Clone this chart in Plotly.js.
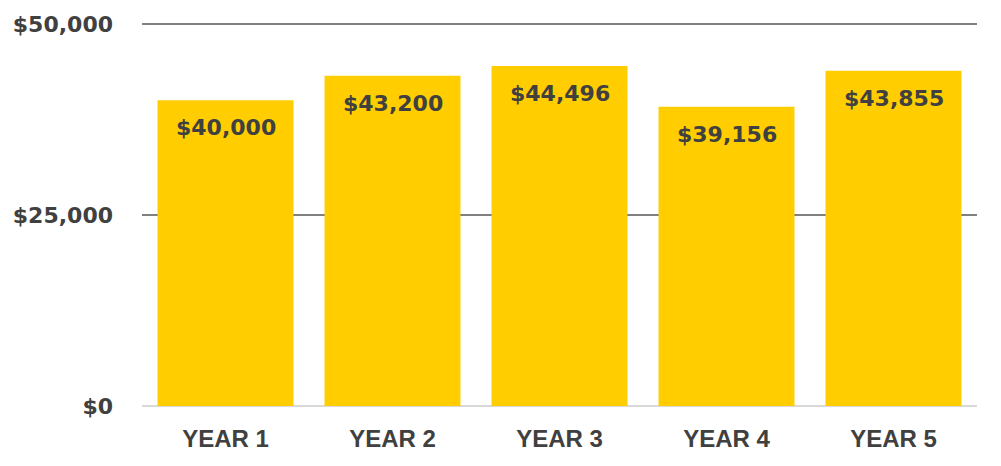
<!DOCTYPE html>
<html><head><meta charset="utf-8">
<script src="https://cdn.plot.ly/plotly-3.0.1.min.js"></script>
<style>html,body{margin:0;padding:0;background:#fff}</style>
</head><body><div id="chart" style="width:1001px;height:466px"></div>
<script>
const categories = ["YEAR 1", "YEAR 2", "YEAR 3", "YEAR 4", "YEAR 5"];
const values = [40000, 43200, 44496, 39156, 43855];
const yTickVals = [0, 25000, 50000];
const yTickText = ["$0", "$25,000", "$50,000"];

const numFont = "DejaVu Sans, sans-serif";
const txtColor = "#404040";

const trace = {
  type: "bar",
  x: categories,
  y: values,
  marker: {color: "#FFCD00"},
  hoverinfo: "skip"
};

const annotations = categories.map((c, i) => ({
  x: c, y: values[i], xref: "x", yref: "y",
  text: "$" + values[i].toLocaleString("en-US"),
  showarrow: false, yanchor: "top", yshift: -13,
  font: {family: numFont, size: 22, color: txtColor, weight: 700}
}));

const layout = {
  width: 1001, height: 466,
  margin: {l: 142, r: 24, t: 22, b: 60},
  paper_bgcolor: "#fff", plot_bgcolor: "#fff",
  bargap: 0.186,
  showlegend: false,
  xaxis: {
    type: "category",
    tickfont: {family: "Liberation Sans, Arial, sans-serif", size: 24, color: txtColor, weight: 700},
    ticklabelstandoff: 16,
    showgrid: false, zeroline: false, showline: false, ticks: ""
  },
  yaxis: {
    range: [0, 50250],
    tickvals: yTickVals, ticktext: yTickText,
    tickfont: {family: numFont, size: 22, color: txtColor, weight: 700},
    ticklabelstandoff: 28,
    showgrid: true, gridcolor: "#808080", gridwidth: 1.5,
    zeroline: true, zerolinecolor: "#d9d9d9", zerolinewidth: 2,
    showline: false, ticks: ""
  },
  annotations: annotations
};

Plotly.newPlot("chart", [trace], layout, {displayModeBar: false, staticPlot: true});
</script></body></html>
